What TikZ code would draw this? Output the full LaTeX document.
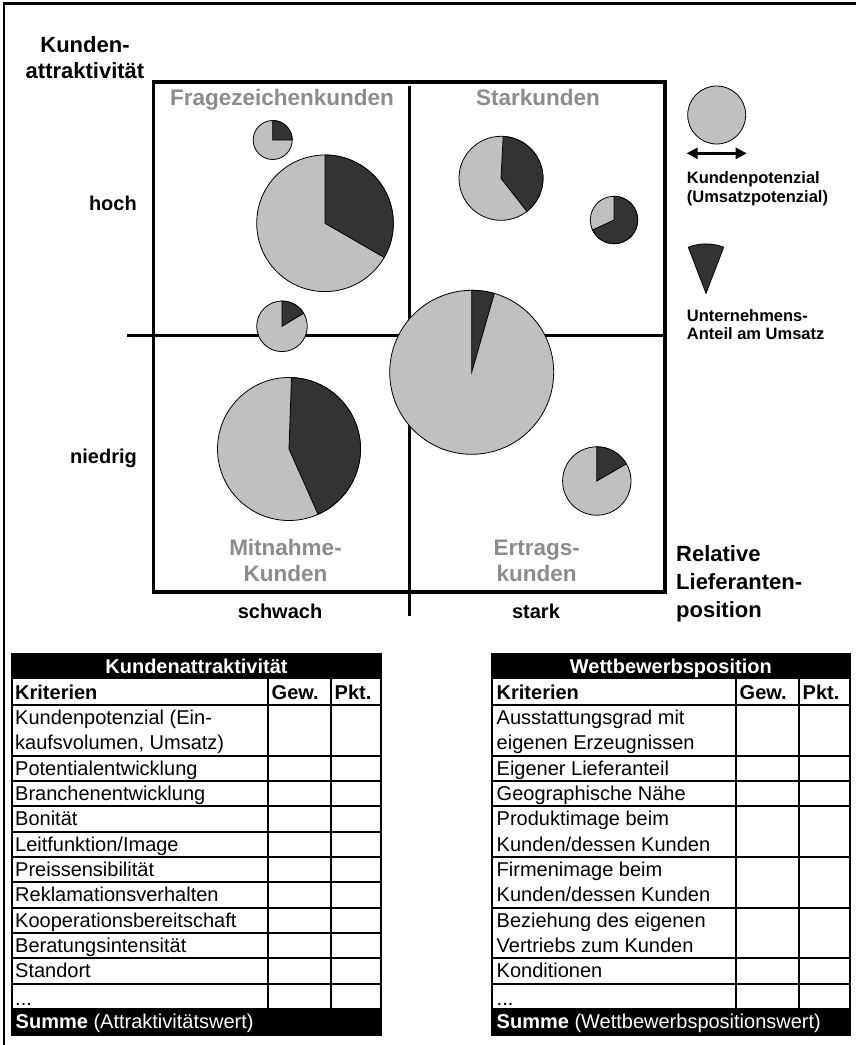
\documentclass[tikz,border=0pt]{standalone}
\usepackage{fontspec}
\setmainfont{Liberation Sans}
\usetikzlibrary{arrows.meta}

\definecolor{piegray}{RGB}{192,192,192}
\definecolor{piedark}{RGB}{51,51,51}
\definecolor{quadgray}{RGB}{140,140,140}

\newcommand\fsz[2]{\fontsize{#1}{#2}\selectfont}
% pie: name, centre x, centre y, radius, dark sector from angle #5 to #6 (counter-clockwise)
\newcommand\piechart[6]{%
  \coordinate (#1) at (#2,#3);
  \filldraw[fill=piegray, pieline] (#1) circle[radius=#4];
  \filldraw[fill=piedark, pieline] (#1) -- ++({-(#5)}:#4)
    arc[start angle={-(#5)}, end angle={-(#6)}, radius=#4] -- cycle;}
% table rows: top edge of row k
\newcommand\rowy[1]{705+#1*25.333}

\tikzset{
  pieline/.style={draw=black, line width=0.8pt},
  grid/.style={line width=3.2pt},
  rule/.style={line width=2pt},
  lbl/.style={inner sep=0pt, anchor=base, font=\bfseries\fsz{20}{24}},
  axis/.style={inner sep=0pt, anchor=base west, font=\bfseries\fsz{22}{26}},
  quad/.style={inner sep=0pt, anchor=base, text=quadgray, font=\bfseries\fsz{22.5}{26}},
  legend/.style={inner sep=0pt, anchor=base west, font=\bfseries\fsz{16.5}{19}},
  cell/.style={inner sep=0pt, anchor=base west, font=\fsz{20}{25}},
  cellhead/.style={cell, font=\bfseries\fsz{20}{25}},
  bartext/.style={inner sep=0pt, text=white, font=\fsz{20}{25}},
}

\begin{document}
\begin{tikzpicture}[x=1pt, y=-1pt]
\useasboundingbox (0,0) rectangle (855,1045);

% frame
\draw[line width=2.5pt] (4,1046) -- (4,3.5) -- (856,3.5);

% portfolio matrix
\draw[grid] (153.5,82) rectangle (665,592);
\coordinate (vtop) at (409.3,86);
\coordinate (vbot) at (409.3,616);
\coordinate (hleft) at (127,335.7);
\coordinate (hright) at (665,335.7);
\draw[grid] (vtop) -- (vbot);
\draw[grid] (hleft) -- (hright);

% axis labels
\node[inner sep=0pt, anchor=base, font=\bfseries\fsz{22}{26}] (ya1) at (85,52) {Kunden-};
\node[inner sep=0pt, anchor=base, font=\bfseries\fsz{22}{26}] (ya2) at (85,78) {attraktivität};
\node[lbl, anchor=base east] (hoch) at (137,210.7) {hoch};
\node[lbl, anchor=base east] (niedrig) at (137,463.3) {niedrig};
\node[lbl] (schwach) at (280,618.3) {schwach};
\node[lbl] (stark) at (536,618.3) {stark};
\node[axis] (xa1) at (676,561.7) {Relative};
\node[axis] (xa2) at (676,589.3) {Lieferanten-};
\node[axis] (xa3) at (676,617.3) {position};

% quadrant names
\node[quad] (q1) at (282,105.7) {Fragezeichenkunden};
\node[quad] (q2) at (538,105.2) {Starkunden};
\node[quad] (q3a) at (285.5,555) {Mitnahme-};
\node[quad] (q3b) at (285.5,581) {Kunden};
\node[quad] (q4a) at (536.7,555) {Ertrags-};
\node[quad] (q4b) at (536.7,581) {kunden};

% customers
\piechart{p1}{272.7}{140}{19.5}{0}{90}
\piechart{p2}{325}{223.3}{68.3}{-30}{90}
\piechart{p3}{282}{326.3}{25.3}{31}{90}
\piechart{p4}{501}{178.3}{42}{-52}{87}
\piechart{p5}{614}{220}{23.7}{-155}{90}
\piechart{p6}{471.7}{372.3}{82}{74}{90}
\piechart{p7}{289}{449}{71.5}{-66}{88}
\piechart{p8}{596.8}{481}{34.2}{30}{90}

% legend
\coordinate (lc) at (716.7,115);
\filldraw[fill=piegray, pieline] (lc) circle[radius=29];
\coordinate (la) at (686.7,153.3);
\coordinate (lb) at (746.7,153.3);
\draw[line width=2.5pt, {Triangle[length=11pt,width=11pt]}-{Triangle[length=11pt,width=11pt]}] (la) -- (lb);
\node[legend] (lg1) at (686.7,183.5) {Kundenpotenzial};
\node[legend] (lg2) at (686.7,202) {(Umsatzpotenzial)};
\coordinate (lw) at (706,293.3);
\filldraw[fill=piedark, pieline] (lw) -- ++(-69:49.4) arc[start angle=-69, end angle=-111, radius=49.4] -- cycle;
\node[legend] (lg3) at (686.7,321.7) {Unternehmens-};
\node[legend] (lg4) at (686.7,339.5) {Anteil am Umsatz};

% ---------- table: Kundenattraktivität ----------
\fill (10.7,653.3) rectangle (382.3,677.7);
\fill (10.7,1009) rectangle (382.3,1035.7);
\draw[rule] (11.7,677.7) rectangle (381.3,1009);
\draw[rule] (267.7,677.7) -- (267.7,1009);
\draw[rule] (331,677.7) -- (331,1009);
\foreach \k in {0,2,3,4,5,6,7,8,9,10,11}
  \draw[rule] (10.7,{\rowy{\k}}) -- (382.3,{\rowy{\k}});
\node[bartext, anchor=base, font=\bfseries\fsz{20}{25}] (ta) at (196.5,673.3) {Kundenattraktivität};
\node[cellhead] (ta0) at (15,699.5) {Kriterien};
\node[cellhead] (ta0g) at (271.5,699.5) {Gew.};
\node[cellhead] (ta0p) at (334.5,699.5) {Pkt.};
\node[cell] (ta1a) at (15,{\rowy{0}+19.5}) {Kundenpotenzial (Ein-};
\node[cell] (ta1b) at (15,{\rowy{0}+44.8}) {kaufsvolumen, Umsatz)};
\node[cell] (ta2) at (15,{\rowy{2}+19.5}) {Potentialentwicklung};
\node[cell] (ta3) at (15,{\rowy{3}+19.5}) {Branchenentwicklung};
\node[cell] (ta4) at (15,{\rowy{4}+19.5}) {Bonität};
\node[cell] (ta5) at (15,{\rowy{5}+19.5}) {Leitfunktion/Image};
\node[cell] (ta6) at (15,{\rowy{6}+19.5}) {Preissensibilität};
\node[cell] (ta7) at (15,{\rowy{7}+19.5}) {Reklamationsverhalten};
\node[cell] (ta8) at (15,{\rowy{8}+19.5}) {Kooperationsbereitschaft};
\node[cell] (ta9) at (15,{\rowy{9}+19.5}) {Beratungsintensität};
\node[cell] (ta10) at (15,{\rowy{10}+19.5}) {Standort};
\node[cell] (ta11) at (15,{\rowy{11}+21.5}) {...};
\node[bartext, anchor=base west] (tas) at (15.5,1028.3) {\textbf{Summe} (Attraktivitätswert)};

% ---------- table: Wettbewerbsposition ----------
\fill (491,653.3) rectangle (850.7,677.7);
\fill (491,1009) rectangle (850.7,1035.7);
\draw[rule] (492,677.7) rectangle (849.7,1009);
\draw[rule] (735.7,677.7) -- (735.7,1009);
\draw[rule] (799,677.7) -- (799,1009);
\foreach \k in {0,2,3,4,6,8,10,11}
  \draw[rule] (491,{\rowy{\k}}) -- (850.7,{\rowy{\k}});
\node[bartext, anchor=base, font=\bfseries\fsz{20}{25}] (tb) at (670.8,673.3) {Wettbewerbsposition};
\node[cellhead] (tb0) at (496.5,699.5) {Kriterien};
\node[cellhead] (tb0g) at (739.5,699.5) {Gew.};
\node[cellhead] (tb0p) at (802.5,699.5) {Pkt.};
\node[cell] (tb1a) at (496.5,{\rowy{0}+19.5}) {Ausstattungsgrad mit};
\node[cell] (tb1b) at (496.5,{\rowy{0}+44.8}) {eigenen Erzeugnissen};
\node[cell] (tb2) at (496.5,{\rowy{2}+19.5}) {Eigener Lieferanteil};
\node[cell] (tb3) at (496.5,{\rowy{3}+19.5}) {Geographische Nähe};
\node[cell] (tb4a) at (496.5,{\rowy{4}+19.5}) {Produktimage beim};
\node[cell] (tb4b) at (496.5,{\rowy{4}+44.8}) {Kunden/dessen Kunden};
\node[cell] (tb5a) at (496.5,{\rowy{6}+19.5}) {Firmenimage beim};
\node[cell] (tb5b) at (496.5,{\rowy{6}+44.8}) {Kunden/dessen Kunden};
\node[cell] (tb6a) at (496.5,{\rowy{8}+19.5}) {Beziehung des eigenen};
\node[cell] (tb6b) at (496.5,{\rowy{8}+44.8}) {Vertriebs zum Kunden};
\node[cell] (tb7) at (496.5,{\rowy{10}+19.5}) {Konditionen};
\node[cell] (tb8) at (496.5,{\rowy{11}+21.5}) {...};
\node[bartext, anchor=base west] (tbs) at (496.5,1028.3) {\textbf{Summe} (Wettbewerbspositionswert)};
\end{tikzpicture}
\end{document}
